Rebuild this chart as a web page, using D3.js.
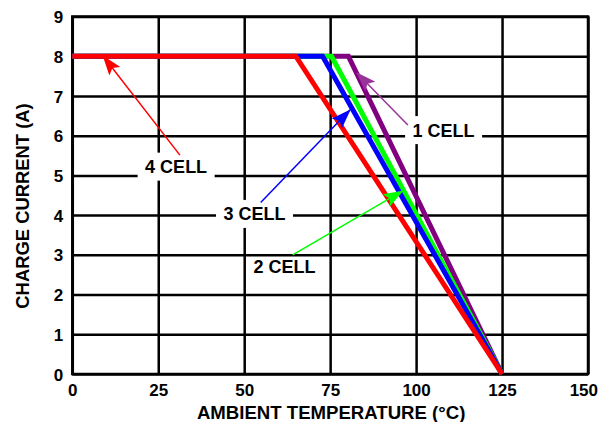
<!DOCTYPE html>
<html><head><meta charset="utf-8">
<script src="https://cdn.jsdelivr.net/npm/d3@7"></script>
<style>
html,body{margin:0;padding:0;background:#fff;}
text{font-family:"Liberation Sans",Arial,sans-serif;font-weight:bold;fill:#000;}
</style></head>
<body>
<svg id="chart" width="599" height="422"></svg>
<script>
// ---- data ----
const xTicks = [0, 25, 50, 75, 100, 125, 150];
const yTicks = [0, 1, 2, 3, 4, 5, 6, 7, 8, 9];
const cells = ["1 CELL", "2 CELL", "3 CELL", "4 CELL"];
const colors = ["#800080", "#00ff00", "#0000ff", "#ff0000"];
const arrowColors = ["#993399", "#00ff00", "#0000ff", "#ff0000"];
const temp1 = [0, 80.3, 125], curr1 = [8, 8, 0];
const temp2 = [0, 75.4, 125], curr2 = [8, 8, 0];
const temp3 = [0, 72.8, 125], curr3 = [8, 8, 0];
const temp4 = [0, 65, 125],   curr4 = [8, 8, 0];
const series = [[temp1, curr1], [temp2, curr2], [temp3, curr3], [temp4, curr4]];
// annotation anchors (data units): label centre, arrow tail, arrow tip
const labelX = [108, 61.7, 53.0, 30.2];
const labelY = [6.14, 2.70, 4.03, 5.22];
const tailX = [97.6, 64.1, 54.8, 31.3], tailY = [6.27, 3.0, 4.32, 5.51];
const tipX = [82.8, 96.1, 80.8, 9.0],  tipY = [7.58, 4.61, 6.65, 8.0];

// ---- layout ----
const svg = d3.select("#chart");
const L = 72.3, R = 588, T = 16.5, B = 374;
const x = d3.scaleLinear().domain([0, 150]).range([L, R]);
const y = d3.scaleLinear().domain([0, 9]).range([B, T]);

// grid via axes
const gx = svg.append("g").attr("transform", `translate(0,${B})`)
  .call(d3.axisBottom(x).tickValues(xTicks).tickSizeInner(-(B - T)).tickSizeOuter(0).tickPadding(9));
gx.select(".domain").remove();
gx.selectAll("line").attr("stroke", "#000").attr("stroke-width", 2.5);
gx.selectAll("text").attr("font-size", 17).attr("dy", "0.71em").attr("y", 9.5);
gx.selectAll(".tick").filter(d => d === 150).select("text")
  .attr("text-anchor", "end").attr("x", 9.5);

const gy = svg.append("g").attr("transform", `translate(${L},0)`)
  .call(d3.axisLeft(y).tickValues(yTicks).tickSizeInner(-(R - L)).tickSizeOuter(0).tickPadding(9));
gy.select(".domain").remove();
gy.selectAll("line").attr("stroke", "#000").attr("stroke-width", 2.5);
gy.selectAll("text").attr("font-size", 17).attr("dy", "0.36em");

svg.append("rect").attr("x", L).attr("y", T).attr("width", R - L).attr("height", B - T)
  .attr("fill", "none").attr("stroke", "#000").attr("stroke-width", 2.5);

// axis titles
svg.append("text").attr("x", (L + R) / 2 + 1).attr("y", 419).attr("text-anchor", "middle")
  .attr("font-size", 18.6).text("AMBIENT TEMPERATURE (°C)");
svg.append("text").attr("transform", `translate(29,206) rotate(-90)`).attr("text-anchor", "middle")
  .attr("font-size", 18.4).text("CHARGE CURRENT (A)");

// data lines
const line = d3.line().x(d => x(d[0])).y(d => y(d[1]));
series.forEach((s, i) => {
  const pts = s[0].map((t, k) => [t, s[1][k]]);
  svg.append("path").attr("d", line(pts)).attr("fill", "none")
    .attr("stroke", colors[i]).attr("stroke-width", 5).attr("stroke-linejoin", "miter");
});

// arrow markers
const defs = svg.append("defs");
arrowColors.forEach((c, i) => {
  defs.append("marker").attr("id", "ah" + i).attr("markerUnits", "userSpaceOnUse")
    .attr("viewBox", "0 0 20 14").attr("markerWidth", 20).attr("markerHeight", 14)
    .attr("refX", 19).attr("refY", 7).attr("orient", "auto")
    .append("path").attr("d", "M0,0 L20,7 L0,14 L4,7 z").attr("fill", c);
});

// label boxes + text
cells.forEach((c, i) => {
  const cx = x(labelX[i]), cy = y(labelY[i]);
  if (i !== 1) {
    svg.append("rect").attr("x", cx - 38.5).attr("y", cy - 14).attr("width", 77).attr("height", 28).attr("fill", "#fff");
  }
  svg.append("text").attr("x", cx).attr("y", cy + 6.5).attr("text-anchor", "middle")
    .attr("font-size", 18).text(c);
});

// arrows
cells.forEach((c, i) => {
  svg.append("line").attr("x1", x(tailX[i])).attr("y1", y(tailY[i]))
    .attr("x2", x(tipX[i])).attr("y2", y(tipY[i]))
    .attr("stroke", arrowColors[i]).attr("stroke-width", 1.5)
    .attr("marker-end", `url(#ah${i})`);
});
</script>
</body></html>
